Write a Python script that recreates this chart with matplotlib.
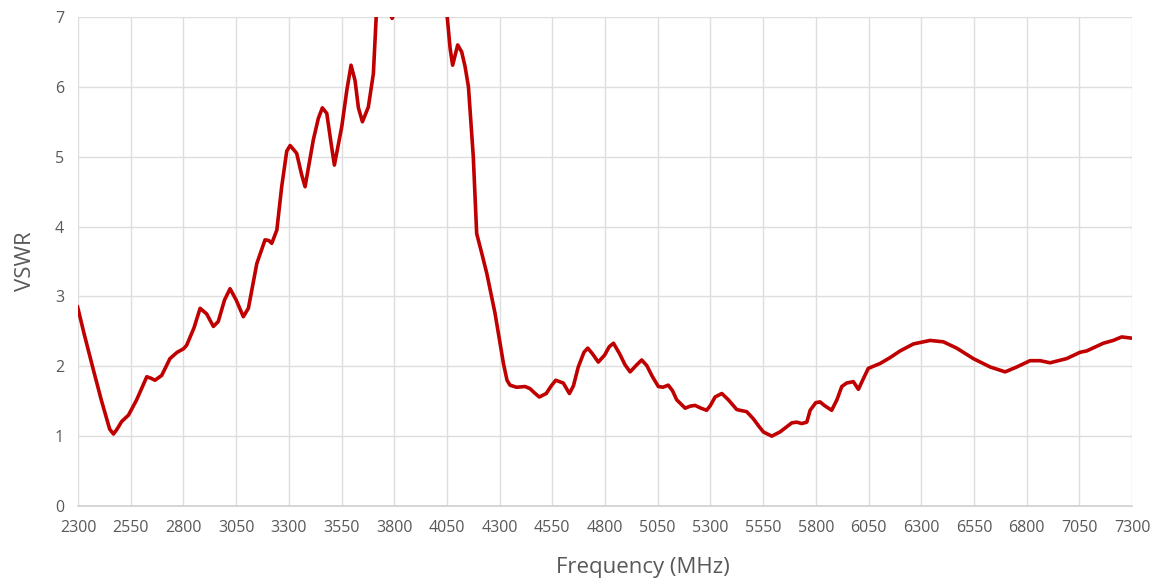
import matplotlib
matplotlib.use("Agg")
import matplotlib.pyplot as plt

freq_mhz = [2297, 2330, 2370, 2410, 2450, 2468, 2485, 2507, 2539, 2578, 2626, 2645, 2665, 2697,
            2736, 2770, 2800, 2815, 2850, 2879, 2910, 2942, 2965, 2995, 3021, 3050, 3084, 3108,
            3148, 3187, 3205, 3219, 3243, 3266, 3290, 3306, 3337, 3360, 3377, 3416, 3440, 3459,
            3480, 3500, 3516, 3551, 3575, 3595, 3614, 3630, 3649, 3677, 3701, 3714, 3740, 3775,
            3790, 3805, 3850, 3950, 4030, 4052, 4065, 4077, 4101, 4120, 4136, 4152, 4175, 4191,
            4215, 4239, 4278, 4318, 4335, 4349, 4380, 4421, 4444, 4465, 4488, 4521, 4545, 4566,
            4602, 4631, 4650, 4673, 4700, 4718, 4740, 4768, 4798, 4820, 4840, 4869, 4895, 4919,
            4950, 4974, 4998, 5025, 5053, 5075, 5100, 5120, 5140, 5180, 5205, 5227, 5255, 5282,
            5300, 5322, 5354, 5385, 5425, 5472, 5503, 5530, 5551, 5591, 5630, 5660, 5686, 5710,
            5733, 5757, 5773, 5800, 5820, 5840, 5860, 5875, 5900, 5923, 5946, 5978, 6002, 6025,
            6049, 6105, 6150, 6200, 6263, 6342, 6405, 6468, 6547, 6627, 6698, 6753, 6816, 6864,
            6911, 6990, 7053, 7085, 7164, 7211, 7251, 7306]
vswr = [2.86, 2.45, 1.98, 1.52, 1.10, 1.03, 1.10, 1.21, 1.30, 1.52, 1.85, 1.83, 1.80, 1.87,
        2.11, 2.20, 2.25, 2.30, 2.55, 2.83, 2.75, 2.57, 2.64, 2.95, 3.11, 2.95, 2.71, 2.83,
        3.47, 3.81, 3.80, 3.76, 3.95, 4.57, 5.08, 5.16, 5.05, 4.75, 4.57, 5.24, 5.55, 5.70,
        5.62, 5.20, 4.88, 5.43, 5.95, 6.31, 6.09, 5.70, 5.50, 5.71, 6.19, 6.98, 7.60, 7.10,
        6.98, 7.10, 8.00, 8.50, 7.60, 6.98, 6.55, 6.31, 6.60, 6.50, 6.29, 6.00, 5.00, 3.90,
        3.62, 3.33, 2.76, 2.04, 1.80, 1.73, 1.70, 1.71, 1.68, 1.62, 1.56, 1.61, 1.72, 1.80,
        1.76, 1.61, 1.72, 1.99, 2.20, 2.26, 2.18, 2.06, 2.16, 2.28, 2.33, 2.18, 2.02, 1.92,
        2.02, 2.09, 2.01, 1.85, 1.71, 1.70, 1.73, 1.65, 1.52, 1.40, 1.43, 1.44, 1.40, 1.37,
        1.44, 1.56, 1.61, 1.52, 1.38, 1.35, 1.25, 1.14, 1.06, 1.00, 1.06, 1.13, 1.19, 1.20,
        1.18, 1.20, 1.37, 1.48, 1.49, 1.44, 1.40, 1.37, 1.52, 1.71, 1.76, 1.78, 1.67, 1.82,
        1.97, 2.04, 2.12, 2.22, 2.32, 2.37, 2.35, 2.26, 2.11, 1.99, 1.92, 1.99, 2.08, 2.08,
        2.05, 2.11, 2.20, 2.22, 2.33, 2.37, 2.42, 2.40]
x_ticks = list(range(2300, 7301, 250))
y_ticks = list(range(0, 8))

plt.rcParams['font.family'] = ['Open Sans', 'DejaVu Sans']
fig = plt.figure(figsize=(11.65, 5.82), dpi=100)
ax = fig.add_axes([0.067, 0.1306, 0.9047, 0.8402])
ax.plot(freq_mhz, vswr, color='#C00000', linewidth=2.6, solid_joinstyle='round',
        solid_capstyle='round', clip_on=True)
ax.set_xlim(2300, 7300)
ax.set_ylim(0, 7)
ax.set_xticks(x_ticks)
ax.set_yticks(y_ticks)
ax.grid(True, color='#dedede', linewidth=1.0)
ax.set_axisbelow(True)
for s in ['top', 'right', 'left']:
    ax.spines[s].set_visible(False)
ax.spines['bottom'].set_color('#d0d0d0')
ax.spines['bottom'].set_linewidth(1.2)
ax.tick_params(axis='both', length=0, labelsize=11.5, labelcolor='#595959')
ax.tick_params(axis='x', pad=10)
ax.tick_params(axis='y', pad=10)
ax.set_xlabel('Frequency (MHz)', fontsize=16, color='#595959')
ax.set_ylabel('VSWR', fontsize=16, color='#595959', labelpad=14)
ax.xaxis.set_label_coords(0.536, -0.105)
fig.savefig('out.png', dpi=100)
